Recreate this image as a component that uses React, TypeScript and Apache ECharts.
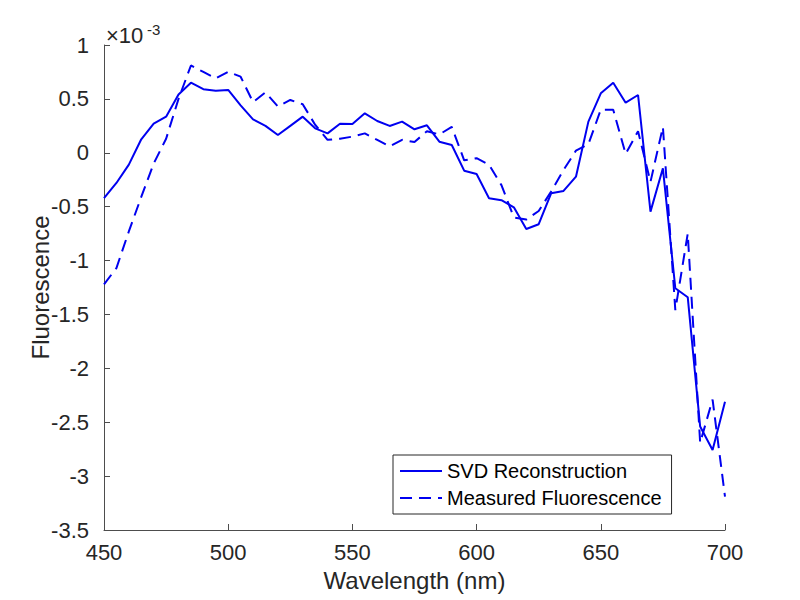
import React, { useEffect, useRef } from "react";
import * as echarts from "echarts";

// Wavelength in nm
const wavelengths = [
  450, 455, 460, 465, 470, 475, 480, 485, 490, 495,
  500, 505, 510, 515, 520, 525, 530, 535, 540, 545,
  550, 555, 560, 565, 570, 575, 580, 585, 590, 595,
  600, 605, 610, 615, 620, 625, 630, 635, 640, 645,
  650, 655, 660, 665, 670, 675, 680, 685, 690, 695, 700,
];

// Values in units of 1e-3
const svdReconstruction = [
  -0.42, -0.28, -0.11, 0.125, 0.27, 0.335, 0.54, 0.65, 0.59, 0.575,
  0.583, 0.44, 0.31, 0.25, 0.165, 0.25, 0.335, 0.227, 0.18, 0.27,
  0.267, 0.366, 0.295, 0.249, 0.289, 0.218, 0.255, 0.103, 0.072, -0.166,
  -0.197, -0.422, -0.44, -0.506, -0.707, -0.663, -0.376, -0.354, -0.222, 0.289,
  0.552, 0.65, 0.465, 0.536, -0.546, -0.144, -1.257, -1.34, -2.54, -2.757, -2.31,
];

const measuredFluorescence = [
  -1.22, -1.07, -0.73, -0.41, -0.1, 0.13, 0.5, 0.81, 0.75, 0.69,
  0.752, 0.706, 0.47, 0.56, 0.43, 0.49, 0.45, 0.26, 0.12, 0.13,
  0.15, 0.18, 0.12, 0.06, 0.12, 0.1, 0.2, 0.17, 0.24, -0.07,
  -0.05, -0.11, -0.3, -0.6, -0.62, -0.54, -0.36, -0.16, 0.02, 0.08,
  0.4, 0.4, -0.01, 0.2, -0.27, 0.24, -1.46, -0.75, -2.69, -2.29, -3.19,
];

const xTicks = { min: 450, max: 700, interval: 50 };
const yTicks = { min: -3.5, max: 1, interval: 0.5 };

const seriesNames = ["SVD Reconstruction", "Measured Fluorescence"];

export default function App() {
  const ref = useRef<HTMLDivElement>(null);

  useEffect(() => {
    if (!ref.current) return;
    const chart = echarts.init(ref.current, null, { renderer: "svg" });
    const font = "'Liberation Sans', Arial, Helvetica, sans-serif";
    const textColor = "#262626";
    const axisColor = "#4d4d4d";
    const blue = "#0000f0";

    chart.setOption({
      animation: false,
      backgroundColor: "#ffffff",
      textStyle: { fontFamily: font },
      grid: { left: 104, top: 45, right: 75, bottom: 70, containLabel: false },
      xAxis: {
        type: "value",
        min: xTicks.min,
        max: xTicks.max,
        interval: xTicks.interval,
        name: "Wavelength (nm)",
        nameLocation: "middle",
        nameGap: 38,
        nameMoveOverlap: false,
        nameTextStyle: { fontSize: 24, color: textColor, fontFamily: font },
        axisLine: { show: true, onZero: false, lineStyle: { color: axisColor, width: 1 } },
        axisTick: { show: true, inside: true, length: 6, lineStyle: { color: axisColor } },
        axisLabel: { fontSize: 22, color: textColor, margin: 11, fontFamily: font },
        splitLine: { show: false },
      },
      yAxis: {
        type: "value",
        min: yTicks.min,
        max: yTicks.max,
        interval: yTicks.interval,
        name: "Fluorescence",
        nameLocation: "middle",
        nameGap: 52,
        nameRotate: 90,
        nameMoveOverlap: false,
        nameTextStyle: { fontSize: 24, color: textColor, fontFamily: font },
        axisLine: { show: true, onZero: false, lineStyle: { color: axisColor, width: 1 } },
        axisTick: { show: true, inside: true, length: 6, lineStyle: { color: axisColor } },
        axisLabel: { fontSize: 22, color: textColor, margin: 15, fontFamily: font },
        splitLine: { show: false },
      },
      legend: {
        orient: "vertical",
        left: 393,
        top: 455,
        itemWidth: 42,
        itemHeight: 14,
        itemGap: 7,
        padding: [6, 10, 6, 6],
        borderColor: "#262626",
        borderWidth: 1,
        backgroundColor: "#ffffff",
        itemStyle: { opacity: 0 },
        textStyle: { fontSize: 20, color: "#000000", fontFamily: font },
        data: seriesNames,
      },
      graphic: [
        {
          type: "text",
          left: 106,
          top: 24,
          style: { text: "×10", fontSize: 22, fill: textColor, fontFamily: font },
        },
        {
          type: "text",
          left: 147,
          top: 22,
          style: { text: "-3", fontSize: 15, fill: textColor, fontFamily: font },
        },
      ],
      series: [
        {
          name: seriesNames[0],
          type: "line",
          symbol: "none",
          data: wavelengths.map((w, i) => [w, svdReconstruction[i]]),
          lineStyle: { color: blue, width: 2 },
          itemStyle: { color: blue },
        },
        {
          name: seriesNames[1],
          type: "line",
          symbol: "none",
          data: wavelengths.map((w, i) => [w, measuredFluorescence[i]]),
          lineStyle: { color: blue, width: 2, type: [12, 7] },
          itemStyle: { color: blue },
        },
      ],
    });

    return () => chart.dispose();
  }, []);

  return <div ref={ref} style={{ width: 800, height: 600, marginLeft: -8, marginTop: -8 }} />;
}
